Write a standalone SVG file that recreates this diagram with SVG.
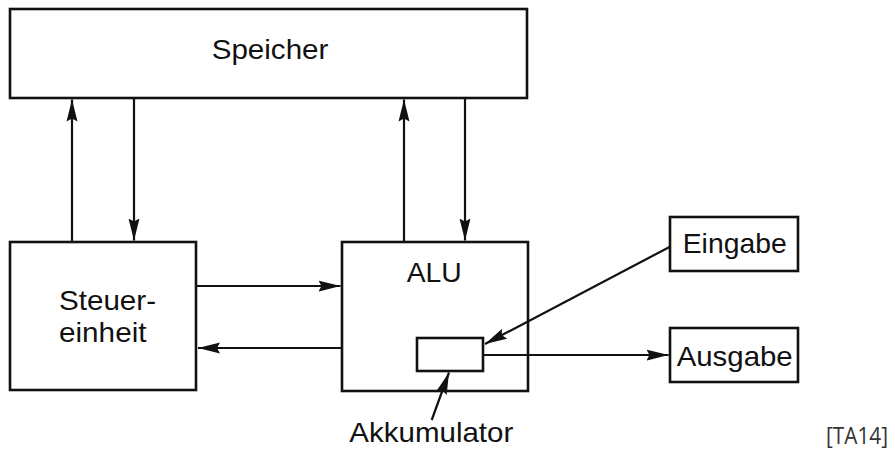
<svg xmlns="http://www.w3.org/2000/svg" width="895" height="452" viewBox="0 0 895 452">
<style>
.box{fill:#fff;stroke:#111;stroke-width:2.6}
.ln{fill:none;stroke:#111;stroke-width:2.2}
.t{font-family:"Liberation Sans",Arial,sans-serif;font-size:28px;fill:#111}
.src{font-family:"Open Sans","DejaVu Sans",sans-serif;font-size:23px;fill:#333}
</style>
<defs>
<marker id="ah" markerUnits="userSpaceOnUse" markerWidth="22" markerHeight="12" viewBox="0 0 22 11" refX="22" refY="5.5" orient="auto">
<path d="M0,0 L22,5.5 L0,11 L3,5.5 z" fill="#111"/>
</marker>
</defs>
<rect width="895" height="452" fill="#fff"/>
<g id="speicher">
<rect class="box" x="10" y="9" width="517" height="89"/>
<text class="t" x="211.7" y="58.5" textLength="116.7" lengthAdjust="spacingAndGlyphs">Speicher</text>
</g>
<g id="steuereinheit">
<rect class="box" x="10" y="242" width="186" height="148"/>
<text class="t" x="59" y="310" textLength="97" lengthAdjust="spacingAndGlyphs">Steuer-</text>
<text class="t" x="59" y="341.5" textLength="87.5" lengthAdjust="spacingAndGlyphs">einheit</text>
</g>
<g id="alu">
<rect class="box" x="342" y="242" width="186" height="149"/>
<text class="t" x="406.7" y="281.7" textLength="55" lengthAdjust="spacingAndGlyphs">ALU</text>
</g>
<g id="akkumulator">
<rect class="box" x="417" y="338" width="66" height="33"/>
</g>
<g id="eingabe">
<rect class="box" x="670" y="217" width="128" height="54"/>
<text class="t" x="682.7" y="253.3" textLength="104" lengthAdjust="spacingAndGlyphs">Eingabe</text>
</g>
<g id="ausgabe">
<rect class="box" x="670" y="328" width="128" height="54"/>
<text class="t" x="676.7" y="365.7" textLength="116" lengthAdjust="spacingAndGlyphs">Ausgabe</text>
</g>
<g id="akku-label">
<text class="t" x="349.3" y="441.7" textLength="164" lengthAdjust="spacingAndGlyphs">Akkumulator</text>
</g>
<g id="connectors">
<line class="ln" x1="72" y1="242" x2="72" y2="99.5" marker-end="url(#ah)"/>
<line class="ln" x1="134" y1="98" x2="134" y2="240.5" marker-end="url(#ah)"/>
<line class="ln" x1="404" y1="242" x2="404" y2="99.5" marker-end="url(#ah)"/>
<line class="ln" x1="465" y1="98" x2="465" y2="240.5" marker-end="url(#ah)"/>
<line class="ln" x1="196" y1="286" x2="340.5" y2="286" marker-end="url(#ah)"/>
<line class="ln" x1="342" y1="348" x2="198" y2="348" marker-end="url(#ah)"/>
<line class="ln" x1="670" y1="246.7" x2="485" y2="344" marker-end="url(#ah)"/>
<line class="ln" x1="483" y1="355" x2="668.5" y2="355" marker-end="url(#ah)"/>
<line class="ln" x1="431.7" y1="420" x2="449" y2="372.5" stroke-width="1.6" marker-end="url(#ah)"/>
</g>
<text class="src" x="826" y="444" textLength="62" lengthAdjust="spacingAndGlyphs">[TA14]</text>
</svg>
